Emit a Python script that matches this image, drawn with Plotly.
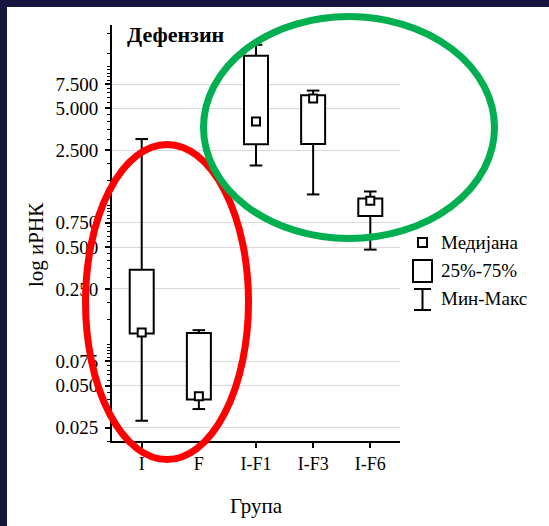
import plotly.graph_objects as go

# ---- data ----
groups = ["I", "F", "I-F1", "I-F3", "I-F6"]
v_min = [0.028, 0.034, 1.94, 1.20, 0.48]
v_q1 = [0.119, 0.0398, 2.76, 2.77, 0.84]
v_median = [0.121, 0.042, 4.02, 5.89, 1.08]
v_q3 = [0.344, 0.120, 12.0, 6.22, 1.12]
v_max = [3.01, 0.126, 14.4, 6.73, 1.26]

y_tickvals = [0.025, 0.05, 0.075, 0.25, 0.5, 0.75, 2.5, 5, 7.5]
y_ticktext = ["0.025", "0.050", "0.075", "0.250", "0.500", "0.750", "2.500", "5.000", "7.500"]
y_minor = [0.02, 0.03, 0.035, 0.04, 0.045, 0.055, 0.06, 0.065, 0.07, 0.08, 0.085,
           0.09, 0.095, 0.1, 0.15, 0.2, 0.3, 0.35, 0.4, 0.45, 0.55, 0.6, 0.65, 0.7,
           0.8, 0.85, 0.9, 0.95, 1.0, 1.5, 2.0, 3.0, 3.5, 4.0, 4.5, 5.5, 6.0, 6.5,
           7.0, 8.0, 8.5, 9.0, 9.5, 10.0, 12.5, 17.5]

title_text = "Дефензин"
y_title = "log иРНК"
x_title = "Група"
legend_labels = ["Медијана", "25%-75%", "Мин-Макс"]

# ---- layout geometry ----
W, H = 549, 526
ML, MR, MT, MB = 112, 149, 25, 85
PW, PH = W - ML - MR, H - MT - MB


def px(x):
    return (x - ML) / PW


def py(y):
    return (H - MB - y) / PH


FONT = "'Liberation Serif', 'DejaVu Serif', serif"
BOX_W = 0.42
CAP = 0.11

xs = list(range(len(groups)))

fig = go.Figure()

# boxes (25%-75%)
fig.add_trace(go.Bar(
    x=xs, base=v_q1, y=[b - a for a, b in zip(v_q1, v_q3)], width=BOX_W,
    marker=dict(color="white", line=dict(color="black", width=2)),
    showlegend=False, hoverinfo="skip"))

# whiskers
wx, wy = [], []
for i, lo, q1, q3, hi in zip(xs, v_min, v_q1, v_q3, v_max):
    wx += [i, i, None, i, i, None, i - CAP, i + CAP, None, i - CAP, i + CAP, None]
    wy += [q3, hi, None, q1, lo, None, hi, hi, None, lo, lo, None]
fig.add_trace(go.Scatter(x=wx, y=wy, mode="lines",
                         line=dict(color="black", width=2),
                         showlegend=False, hoverinfo="skip"))

# medians
fig.add_trace(go.Scatter(x=xs, y=v_median, mode="markers",
                         marker=dict(symbol="square", size=8, color="white",
                                     line=dict(color="black", width=2)),
                         showlegend=False))

shapes = []
# ellipses
shapes.append(dict(type="circle", xref="paper", yref="paper",
                   x0=px(85.5), x1=px(248.5), y0=py(459.5), y1=py(144.5),
                   line=dict(color="#ff0000", width=7), layer="above"))
shapes.append(dict(type="circle", xref="paper", yref="paper",
                   x0=px(203.5), x1=px(494.5), y0=py(238.5), y1=py(16.5),
                   line=dict(color="#00b050", width=7), layer="above"))
# navy frame strips
NAVY = "#161641"
shapes.append(dict(type="rect", xref="paper", yref="paper",
                   x0=px(0), x1=px(7), y0=py(H), y1=py(0),
                   fillcolor=NAVY, line=dict(width=0), layer="above"))
shapes.append(dict(type="rect", xref="paper", yref="paper",
                   x0=px(0), x1=px(W), y0=py(7), y1=py(0),
                   fillcolor=NAVY, line=dict(width=0), layer="above"))
# legend symbols
shapes.append(dict(type="rect", xref="paper", yref="paper",
                   x0=px(418), x1=px(427), y0=py(247), y1=py(238),
                   fillcolor="white", line=dict(color="black", width=2), layer="above"))
shapes.append(dict(type="rect", xref="paper", yref="paper",
                   x0=px(413), x1=px(432), y0=py(282), y1=py(260),
                   fillcolor="white", line=dict(color="black", width=2), layer="above"))
for (xa, ya, xb, yb) in [(422.5, 289, 422.5, 310), (414, 289, 431, 289), (414, 310, 431, 310)]:
    shapes.append(dict(type="line", xref="paper", yref="paper",
                       x0=px(xa), x1=px(xb), y0=py(ya), y1=py(yb),
                       line=dict(color="black", width=2), layer="above"))

annotations = [
    dict(text="<b>" + title_text + "</b>", x=px(125), y=py(34), xref="paper", yref="paper",
         xanchor="left", yanchor="middle", showarrow=False,
         font=dict(family=FONT, size=22, color="black")),
    dict(text=y_title, x=px(36), y=py(245), xref="paper", yref="paper",
         xanchor="center", yanchor="middle", textangle=-90, showarrow=False,
         font=dict(family=FONT, size=21, color="black")),
    dict(text=x_title, x=px(256), y=py(506), xref="paper", yref="paper",
         xanchor="center", yanchor="middle", showarrow=False,
         font=dict(family=FONT, size=21, color="black")),
]
for lab, yc in zip(legend_labels, [242, 270, 298]):
    annotations.append(dict(text=lab, x=px(439), y=py(yc), xref="paper", yref="paper",
                            xanchor="left", yanchor="middle", showarrow=False,
                            font=dict(family=FONT, size=19, color="black")))

fig.update_layout(
    width=W, height=H,
    margin=dict(l=ML, r=MR, t=MT, b=MB),
    paper_bgcolor="white", plot_bgcolor="white",
    showlegend=False,
    shapes=shapes, annotations=annotations,
    font=dict(family=FONT, color="black"),
    xaxis=dict(range=[-0.52, 4.52], tickvals=xs, ticktext=groups,
               showline=True, linecolor="black", linewidth=2,
               ticks="outside", ticklen=5, tickwidth=1.5, tickcolor="black",
               showgrid=False, zeroline=False, fixedrange=True,
               tickfont=dict(family=FONT, size=18, color="black")),
    yaxis=dict(type="log", range=[-1.69897, 1.30103],
               tickvals=y_tickvals, ticktext=y_ticktext,
               showline=True, linecolor="black", linewidth=2,
               ticks="outside", ticklen=5, tickwidth=1.5, tickcolor="black",
               showgrid=True, gridcolor="#d9d9d9", gridwidth=1,
               zeroline=False, fixedrange=True, ticklabelstandoff=3,
               tickfont=dict(family=FONT, size=19, color="black"),
               minor=dict(tickvals=y_minor, ticks="outside", ticklen=3,
                          tickwidth=1.2, tickcolor="black", showgrid=False)),
)

fig.write_html("out.html")
